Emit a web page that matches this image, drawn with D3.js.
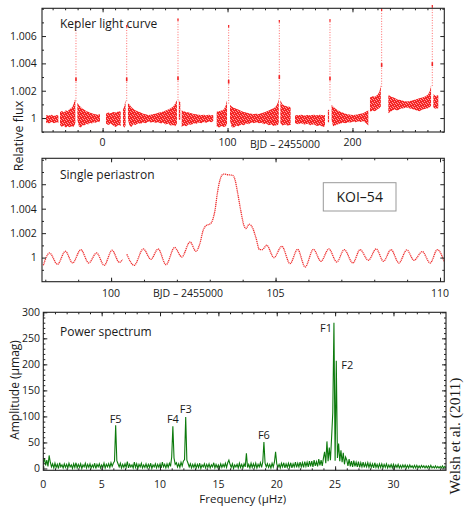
<!DOCTYPE html>
<html>
<head>
<meta charset="utf-8">
<script src="https://cdn.jsdelivr.net/npm/d3@7"></script>
<style>
  body { margin: 0; background: #fff; }
  svg text { font-family: "Open Sans", "Noto Sans", sans-serif; fill: #1a1a1a; }
</style>
</head>
<body>
<svg id="chart" width="464" height="509"></svg>
<script>
// ---------- Kepler light curve (BJD − 2455000): lower / upper edge of the flux band; null marks a data gap
const lcTime = [
  -45.3,-43.0,-41.0,-39.0,-37.0,-35.4,-34.8,
  -34.1,-32.5,-31.0,-29.5,-28.0,-26.5,-25.0,-23.5,-22.4,-21.8,-21.3,
  -20.2,-19.0,-17.5,-16.0,-14.5,-13.0,-11.5,-10.0,-8.5,-7.0,-5.5,-4.0,-2.1,0.3,
  2.7,4.5,6.5,8.5,10.5,12.5,14.5,15.4,16.3,17.3,18.4,19.3,
  20.3,21.5,23.0,24.5,26.5,28.5,30.5,32.5,34.5,36.5,38.5,40.5,42.5,44.5,46.5,48.5,50.5,52.5,54.5,56.5,58.0,59.5,60.3,
  61.0,62.2,62.7,
  63.3,65.0,67.0,69.0,71.0,73.0,75.0,77.0,79.0,81.0,83.0,85.0,87.0,88.6,90.0,
  91.3,93.0,95.0,97.0,98.5,99.6,100.9,
  102.0,103.3,105.0,107.0,109.0,111.0,113.0,115.0,117.0,119.0,121.0,123.0,125.0,127.0,129.0,131.0,133.0,135.0,137.0,139.0,140.3,141.0,141.5,
  142.3,144.0,146.0,148.0,150.5,152.0,
  154.0,156.5,159.0,161.5,164.0,166.5,169.0,171.5,174.0,176.5,178.0,179.3,
  180.3,181.3,182.0,
  183.3,184.5,186.5,188.5,190.5,192.5,194.5,196.5,198.5,200.5,202.5,204.5,206.5,208.5,210.5,212.7,213.4,
  214.0,216.0,218.0,220.0,221.5,222.7,223.4,
  228.7,231.0,233.5,236.0,238.5,241.0,243.5,246.0,248.5,251.0,253.5,256.0,258.5,260.5,262.0,262.9,263.9,
  264.7,266.7,268.7];
const lcLow = [
  0.99968,0.99960,0.99972,0.99962,0.99970,0.99964,null,
  0.99950,0.99935,0.99945,0.99930,0.99942,0.99932,0.99940,0.99935,0.99950,0.99965,null,
  0.99990,0.99940,0.99930,0.99950,0.99945,0.99958,0.99952,0.99965,0.99960,0.99970,0.99966,0.99975,0.99970,null,
  0.99960,0.99950,0.99958,0.99945,0.99935,0.99950,0.99942,null,0.99945,0.99930,0.99945,null,
  0.99990,0.99945,0.99935,0.99955,0.99950,0.99962,0.99958,0.99968,0.99962,0.99975,0.99968,0.99972,0.99965,0.99970,0.99960,0.99965,0.99952,0.99958,0.99945,0.99950,0.99940,0.99955,null,
  0.99990,0.99985,null,
  0.99935,0.99945,0.99940,0.99955,0.99950,0.99962,0.99958,0.99968,0.99962,0.99972,0.99966,0.99975,0.99970,0.99978,null,
  0.99940,0.99930,0.99942,0.99935,0.99940,0.99955,null,
  0.99980,0.99935,0.99930,0.99945,0.99940,0.99952,0.99948,0.99960,0.99955,0.99968,0.99962,0.99970,0.99962,0.99965,0.99955,0.99960,0.99948,0.99952,0.99942,0.99948,0.99950,0.99960,null,
  0.99960,0.99945,0.99952,0.99945,0.99950,null,
  0.99962,0.99955,0.99962,0.99952,0.99958,0.99948,0.99955,0.99942,0.99948,0.99935,0.99942,null,
  0.99972,0.99968,null,
  0.99982,0.99940,0.99948,0.99955,0.99960,0.99965,0.99962,0.99970,0.99968,0.99975,0.99970,0.99976,0.99972,0.99978,0.99965,0.99945,null,
  1.00045,1.00055,1.00050,1.00065,1.00072,1.00085,null,
  1.00035,1.00050,1.00062,1.00055,1.00068,1.00072,1.00078,1.00070,1.00065,1.00058,1.00050,1.00062,1.00068,1.00072,1.00080,1.00090,null,
  1.00075,1.00068,1.00072];
const lcHigh = [
  1.00020,1.00018,1.00025,1.00015,1.00022,1.00018,null,
  1.00045,1.00052,1.00040,1.00058,1.00050,1.00066,1.00072,1.00095,1.00128,1.00140,null,
  1.00112,1.00095,1.00080,1.00068,1.00060,1.00050,1.00046,1.00038,1.00035,1.00030,1.00028,1.00025,1.00027,null,
  1.00032,1.00040,1.00035,1.00045,1.00040,1.00048,1.00050,null,1.00060,1.00085,1.00130,null,
  1.00110,1.00100,1.00080,1.00068,1.00056,1.00048,1.00040,1.00032,1.00028,1.00022,1.00025,1.00030,1.00032,1.00038,1.00042,1.00048,1.00055,1.00062,1.00072,1.00085,1.00105,1.00132,null,
  1.00130,1.00115,null,
  1.00058,1.00050,1.00045,1.00040,1.00036,1.00030,1.00028,1.00025,1.00022,1.00025,1.00020,1.00024,1.00020,1.00022,null,
  1.00046,1.00050,1.00055,1.00062,1.00090,1.00130,null,
  1.00098,1.00085,1.00075,1.00068,1.00060,1.00052,1.00045,1.00040,1.00036,1.00032,1.00030,1.00032,1.00030,1.00036,1.00040,1.00048,1.00055,1.00065,1.00072,1.00088,1.00115,1.00145,null,
  1.00130,1.00100,1.00090,1.00085,1.00080,null,
  1.00022,1.00020,1.00024,1.00018,1.00022,1.00020,1.00025,1.00020,1.00024,1.00020,1.00022,null,
  1.00058,1.00062,null,
  1.00098,1.00085,1.00068,1.00055,1.00046,1.00038,1.00032,1.00028,1.00024,1.00022,1.00025,1.00028,1.00032,1.00036,1.00046,1.00058,null,
  1.00150,1.00160,1.00155,1.00170,1.00190,1.00240,null,
  1.00170,1.00155,1.00148,1.00135,1.00132,1.00125,1.00122,1.00125,1.00130,1.00138,1.00145,1.00150,1.00160,1.00172,1.00200,1.00240,null,
  1.00175,1.00162,1.00168];

// Periastron brightenings: time, peak flux, and the denser cluster part-way up
const spikeTime = [-21.3, 19.3, 60.35, 100.9, 141.45, 182.0, 223.35, 263.9];
const spikePeak = [1.00712, 1.00680, 1.00729, 1.00681, 1.00717, 1.00722, 1.00802, 1.00827];
const spikeMid  = [1.00283, 1.00283, 1.00290, 1.00266, 1.00300, 1.00288, 1.00388, 1.00395];

// ---------- Single periastron (BJD − 2455000); null marks the gap
const zoomTime = [97.94,98.13,98.37,98.61,98.83,99.08,99.32,99.56,99.79,100.03,100.25,100.35,100.42,
  100.48,100.70,100.98,101.21,101.43,101.67,101.93,102.15,102.40,102.58,102.70,102.80,102.89,103.03,103.09,
  103.16,103.23,103.31,103.41,103.57,103.70,103.77,103.85,103.94,104.04,104.10,104.20,104.31,104.41,104.51,
  104.60,104.73,104.95,105.19,105.44,105.67,105.90,106.15,106.38,106.62,106.86,107.09,107.35,107.57,107.82,
  108.06,108.28,108.51,108.75,108.99,109.21,109.46,109.70,109.92,110.13];
const zoomFlux = [0.99937,1.00038,0.99945,1.00052,0.99956,1.00065,0.99956,1.00038,0.99937,1.00060,0.99961,0.99983,null,
  1.00027,0.99937,1.00071,0.99986,1.00071,0.99942,1.00083,1.00005,1.00128,1.00052,1.00115,1.00224,1.00262,1.00279,1.00311,
  1.00388,1.00525,1.00634,1.00683,1.00677,1.00672,1.00634,1.00525,1.00388,1.00262,1.00238,1.00273,1.00238,1.00156,1.00066,
  1.00066,1.00101,1.00000,1.00093,0.99951,1.00068,0.99923,1.00068,0.99970,1.00071,0.99964,1.00065,0.99956,1.00065,0.99978,
  1.00071,0.99970,1.00065,0.99956,1.00063,0.99978,1.00049,0.99956,1.00065,0.99964];

// ---------- Power spectrum: amplitude (μmag) sampled every 0.1 μHz from 0 μHz
const specStep = 0.1;
const specAmp = [
  10,20,6,16,4,25,12,3,9,1,
  10,2,8,0,11,3,7,1,9,2,
  8,1,10,3,7,0,9,2,11,1,
  8,2,9,0,7,3,10,1,8,2,
  9,1,7,2,10,0,8,3,9,1,
  7,2,10,1,8,3,9,2,11,4,
  10,14,83,15,9,3,10,1,8,2,
  9,2,13,1,8,3,7,1,12,2,
  9,0,8,3,10,1,7,2,9,1,
  8,2,10,0,7,3,9,1,8,2,
  9,1,12,3,8,1,9,2,10,4,
  22,81,20,8,11,3,9,2,12,5,
  14,17,99,16,10,3,9,1,8,2,
  9,1,8,2,10,0,7,3,9,1,
  8,2,9,1,7,3,11,1,8,2,
  7,1,9,2,8,3,10,2,11,16,
  8,2,9,0,7,3,8,1,10,2,
  8,1,9,3,29,2,8,1,10,2,
  9,2,10,1,8,3,11,2,12,51,
  10,3,9,2,8,1,10,3,12,32,
  9,2,8,1,10,3,11,1,9,2,
  10,2,11,1,9,3,12,2,10,3,
  12,3,11,2,13,4,12,3,14,4,
  14,3,16,5,13,4,18,6,16,5,
  20,32,10,52,14,40,16,60,107,280,
  15,207,20,48,14,35,12,30,8,22,
  16,5,18,4,14,3,15,4,12,3,
  13,2,11,3,12,2,10,3,11,2,
  10,2,9,1,11,2,8,1,9,2,
  9,1,8,2,9,1,7,2,8,1,
  8,1,7,2,8,1,6,1,7,2,
  7,1,6,1,7,2,5,1,6,1,
  6,1,5,1,6,2,5,1,5,1,
  5,1,6,1,4,1,5,1,4,1,
  4,1,5,1,4,1];
const peakNames = ["F1","F2","F3","F4","F5","F6"];
const peakFreq  = [24.9, 25.1, 12.2, 11.1, 6.2, 18.9];
const peakAmp   = [280, 207, 99, 81, 83, 51];

// ---------- Tick values and tick label text
const lcXTicks = [0, 100, 200];
const lcXLabels = ["0", "100", "200"];
const lcXMinor = d3.range(-40, 271, 10);
const fluxTicks = [1, 1.002, 1.004, 1.006];
const fluxMinor = [0.999, 1.001, 1.003, 1.005, 1.007, 1.008];
const zoomXTicks = [100, 105, 110];
const zoomXLabels = ["100", "105", "110"];
const zoomXMinor = d3.range(98, 111, 1);
const specXTicks = [0, 5, 10, 15, 20, 25, 30];
const specXLabels = ["0", "5", "10", "15", "20", "25", "30"];
const specXMinor = d3.range(1, 35, 1);
const specYTicks = [0, 50, 100, 150, 200, 250, 300];
const specYMinor = d3.range(10, 300, 10);

const svg = d3.select("#chart");
const RED = "#f22424";
const GREEN = "#0c7a0c";

// grainy red fill for the dense light-curve band
const pat = svg.append("defs").append("pattern").attr("id", "speckle")
  .attr("patternUnits", "userSpaceOnUse").attr("width", 5).attr("height", 4);
pat.append("rect").attr("width", 5).attr("height", 4).attr("fill", "#f42626");
[[1,0],[4,1],[2,2],[0,3],[3,3]].forEach(([px, py]) =>
  pat.append("rect").attr("x", px).attr("y", py).attr("width", 1).attr("height", 1).attr("fill", "#ff9c9c"));

// panel boxes
const b1 = {x0: 42, x1: 444.3, y0: 8.3, y1: 132};
const b2 = {x0: 42, x1: 444.3, y0: 158.3, y1: 281.7};
const b3 = {x0: 43.3, x1: 446, y0: 312.3, y1: 470.3};

const x1 = d3.scaleLinear([-48.5, 273.5], [b1.x0, b1.x1]);
const y1 = d3.scaleLinear([0.99898, 1.00803], [b1.y1, b1.y0]);
const x2 = d3.scaleLinear([97.9, 110.13], [b2.x0, b2.x1]);
const y2 = d3.scaleLinear([0.99803, 1.00812], [b2.y1, b2.y0]);
const x3 = d3.scaleLinear([0, 34.5], [b3.x0, b3.x1]);
const y3 = d3.scaleLinear([-3.5, 300], [b3.y1, b3.y0]);

const fluxFmt = d => d === 1 ? "1" : d3.format(".3f")(d);
const intFmt = d3.format("d");

function clip(id, b) {
  svg.append("clipPath").attr("id", id).append("rect")
    .attr("x", b.x0).attr("y", b.y0).attr("width", b.x1 - b.x0).attr("height", b.y1 - b.y0);
}

function frame(b, x, y, xt, xm, yt, ym, yfmt, ypad) {
  const g = svg.append("g");
  const style = sel => {
    sel.select(".domain").remove();
    sel.selectAll("line").attr("stroke", "#222").attr("stroke-width", 1);
    sel.selectAll("text").attr("font-family", null).attr("font-size", 10.5).attr("fill", "#1a1a1a");
  };
  g.append("g").attr("transform", `translate(0,${b.y1})`)
    .call(d3.axisBottom(x).tickValues(xt).tickSize(-4).tickFormat("")).call(style);
  g.append("g").attr("transform", `translate(0,${b.y1})`)
    .call(d3.axisBottom(x).tickValues(xm).tickSize(-2).tickFormat("")).call(style);
  g.append("g").attr("transform", `translate(0,${b.y0})`)
    .call(d3.axisTop(x).tickValues(xt).tickSize(-4).tickFormat("")).call(style);
  g.append("g").attr("transform", `translate(0,${b.y0})`)
    .call(d3.axisTop(x).tickValues(xm).tickSize(-2).tickFormat("")).call(style);
  g.append("g").attr("transform", `translate(${b.x0},0)`)
    .call(d3.axisLeft(y).tickValues(yt).tickSize(-4).tickPadding(ypad).tickFormat(yfmt)).call(style);
  g.append("g").attr("transform", `translate(${b.x0},0)`)
    .call(d3.axisLeft(y).tickValues(ym).tickSize(-2).tickFormat("")).call(style);
  g.append("g").attr("transform", `translate(${b.x1},0)`)
    .call(d3.axisRight(y).tickValues(yt).tickSize(-4).tickFormat("")).call(style);
  g.append("g").attr("transform", `translate(${b.x1},0)`)
    .call(d3.axisRight(y).tickValues(ym).tickSize(-2).tickFormat("")).call(style);
  g.append("rect").attr("x", b.x0).attr("y", b.y0)
    .attr("width", b.x1 - b.x0).attr("height", b.y1 - b.y0)
    .attr("fill", "none").attr("stroke", "#222").attr("stroke-width", 1.1);
  return g;
}

// tick labels under a panel, placed from its x scale
function xLabels(b, x, ticks, labels, baselineGap) {
  svg.append("g").selectAll("text").data(ticks).join("text")
    .attr("x", d => x(d)).attr("y", b.y1 + baselineGap)
    .attr("text-anchor", "middle").attr("font-size", 10.5)
    .text((d, i) => labels[i]);
}

// ================= Panel 1: full light curve
const lcRows = lcTime.map((t, i) => ({t, lo: lcLow[i], hi: lcHigh[i]}));
svg.append("path")
  .datum(lcRows)
  .attr("d", d3.area().defined(d => d.lo != null)
    .x(d => x1(d.t)).y0(d => y1(d.lo)).y1(d => y1(d.hi)))
  .attr("fill", "url(#speckle)");

const spikes = spikeTime.map((t, i) => ({t, peak: spikePeak[i], mid: spikeMid[i]}));
const sg = svg.append("g");
sg.selectAll("line.stem").data(spikes).join("line").attr("class", "stem")
  .attr("x1", d => x1(d.t)).attr("x2", d => x1(d.t))
  .attr("y1", d => y1(d.mid - 0.0016)).attr("y2", d => y1(d.peak))
  .attr("stroke", "#ff6a6a").attr("stroke-width", 1).attr("stroke-dasharray", "1,1.6");
sg.selectAll("line.top").data(spikes).join("line").attr("class", "top")
  .attr("x1", d => x1(d.t)).attr("x2", d => x1(d.t))
  .attr("y1", d => y1(d.peak - 0.00018)).attr("y2", d => y1(d.peak))
  .attr("stroke", RED).attr("stroke-width", 1.2);
sg.selectAll("line.mid").data(spikes).join("line").attr("class", "mid")
  .attr("x1", d => x1(d.t)).attr("x2", d => x1(d.t))
  .attr("y1", d => y1(d.mid - 0.00014)).attr("y2", d => y1(d.mid + 0.00014))
  .attr("stroke", RED).attr("stroke-width", 1.6);

frame(b1, x1, y1, lcXTicks, lcXMinor, fluxTicks, fluxMinor, fluxFmt, 5.3);

svg.append("text").attr("x", 60).attr("y", 28.3).attr("font-size", 12).text("Kepler light curve");
svg.append("text").attr("x", 285).attr("y", 148).attr("text-anchor", "middle")
  .attr("font-size", 10.5).text("BJD – 2455000");

// ================= Panel 2: single periastron passage
clip("clip2", b2);
const zoomRows = zoomTime.map((t, i) => ({t, f: zoomFlux[i]}));
svg.append("path")
  .datum(zoomRows)
  .attr("clip-path", "url(#clip2)")
  .attr("d", d3.line().defined(d => d.f != null).curve(d3.curveMonotoneX)
    .x(d => x2(d.t)).y(d => y2(d.f)))
  .attr("fill", "none").attr("stroke", "#ef3030").attr("stroke-width", 1.3)
  .attr("stroke-dasharray", "1.2,0.7");

frame(b2, x2, y2, zoomXTicks, zoomXMinor, fluxTicks, fluxMinor, fluxFmt, 5.3);

svg.append("text").attr("x", 60).attr("y", 179).attr("font-size", 12).text("Single periastron");
svg.append("rect").attr("x", 323.3).attr("y", 182.7).attr("width", 72.7).attr("height", 28.3)
  .attr("fill", "#fff").attr("stroke", "#999").attr("stroke-width", 1);
svg.append("text").attr("x", 359.7).attr("y", 202).attr("text-anchor", "middle")
  .attr("font-size", 14).text("KOI–54");
svg.append("text").attr("x", 188).attr("y", 297).attr("text-anchor", "middle")
  .attr("font-size", 10.5).text("BJD – 2455000");

// shared y label for the two flux panels
svg.append("text").attr("transform", "translate(22.5,136) rotate(-90)")
  .attr("text-anchor", "middle").attr("font-size", 12.5).text("Relative flux");

// ================= Panel 3: power spectrum
clip("clip3", b3);
svg.append("path")
  .datum(specAmp)
  .attr("clip-path", "url(#clip3)")
  .attr("d", d3.line().x((d, i) => x3(i * specStep)).y(d => y3(d)))
  .attr("fill", "none").attr("stroke", GREEN).attr("stroke-width", 1.1);

frame(b3, x3, y3, specXTicks, specXMinor, specYTicks, specYMinor, intFmt, 3.3);

const labelDx = [-8, 11, 0, 0, 0, 0];
const labelDy = [9, 8, -4, -3.5, -2.6, -2.6];
svg.append("g").selectAll("text").data(peakNames).join("text")
  .attr("x", (d, i) => x3(peakFreq[i]) + labelDx[i])
  .attr("y", (d, i) => y3(peakAmp[i]) + labelDy[i])
  .attr("text-anchor", "middle").attr("font-size", 11).text(d => d);

svg.append("text").attr("x", 60).attr("y", 335.7).attr("font-size", 12).text("Power spectrum");
svg.append("text").attr("x", 242.7).attr("y", 503).attr("text-anchor", "middle")
  .attr("font-size", 11.5).text("Frequency (μHz)");
svg.append("text").attr("transform", "translate(18.5,390) rotate(-90)")
  .attr("text-anchor", "middle").attr("font-size", 12).text("Amplitude (μmag)");
svg.append("text").attr("transform", "translate(460,436) rotate(-90)")
  .attr("text-anchor", "middle").attr("font-size", 15.5)
  .style("font-family", "'Liberation Serif', 'DejaVu Serif', serif").text("Welsh et al. (2011)");

// x tick labels, drawn last so nothing sits above them
xLabels(b1, x1, lcXTicks, lcXLabels, 14);
xLabels(b2, x2, zoomXTicks, zoomXLabels, 15);
xLabels(b3, x3, specXTicks, specXLabels, 17.5);
</script>
</body>
</html>
